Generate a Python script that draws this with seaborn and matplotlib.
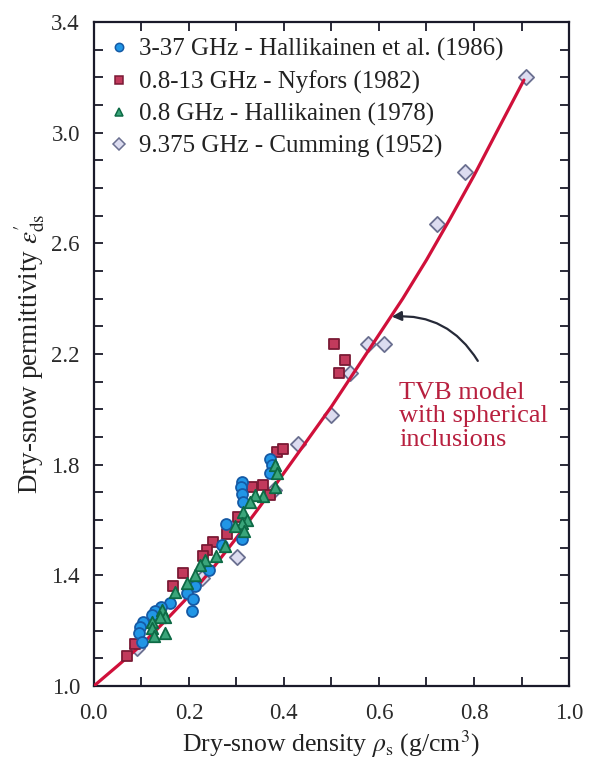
import numpy as np
import pandas as pd
import matplotlib
matplotlib.use("Agg")
import matplotlib.pyplot as plt
from matplotlib.ticker import MultipleLocator, FixedLocator
import seaborn as sns

# ---- measured data -------------------------------------------------------
# Hallikainen et al. (1986), 3-37 GHz
hal86_rho = [0.371, 0.375, 0.371, 0.312, 0.309, 0.312, 0.314, 0.278, 0.312,
             0.269, 0.242, 0.213, 0.196, 0.208, 0.206, 0.160, 0.141, 0.128,
             0.122, 0.103, 0.097, 0.095, 0.101]
hal86_eps = [1.82, 1.80, 1.77, 1.736, 1.718, 1.693, 1.664, 1.585, 1.53,
             1.51, 1.42, 1.36, 1.336, 1.314, 1.27, 1.30, 1.285, 1.27,
             1.256, 1.23, 1.213, 1.19, 1.16]

# Nyfors (1982), 0.8-13 GHz
nyf_rho = [0.505, 0.528, 0.516, 0.385, 0.398, 0.333, 0.356, 0.371, 0.303,
           0.280, 0.251, 0.238, 0.229, 0.187, 0.166, 0.086, 0.069]
nyf_eps = [2.235, 2.18, 2.13, 1.845, 1.856, 1.72, 1.725, 1.69, 1.61,
           1.55, 1.52, 1.49, 1.47, 1.41, 1.36, 1.15, 1.11]

# Hallikainen (1978), 0.8 GHz
hal78_rho = [0.381, 0.385, 0.381, 0.356, 0.339, 0.328, 0.314, 0.322, 0.312,
             0.316, 0.297, 0.276, 0.257, 0.234, 0.223, 0.213, 0.196, 0.171,
             0.143, 0.149, 0.139, 0.122, 0.122, 0.149, 0.126]
hal78_eps = [1.80, 1.77, 1.72, 1.686, 1.69, 1.664, 1.63, 1.60, 1.59,
             1.56, 1.578, 1.505, 1.47, 1.455, 1.437, 1.40, 1.372, 1.34,
             1.274, 1.25, 1.25, 1.23, 1.21, 1.19, 1.18]

# Cumming (1952), 9.375 GHz
cum_rho = [0.909, 0.781, 0.722, 0.611, 0.577, 0.539, 0.499, 0.429, 0.379,
           0.301, 0.227, 0.090]
cum_eps = [3.20, 2.856, 2.67, 2.235, 2.235, 2.13, 1.98, 1.873, 1.71,
           1.466, 1.39, 1.137]

# TVB model with spherical inclusions
model_rho = [0.0, 0.05, 0.10, 0.15, 0.20, 0.25, 0.30, 0.35, 0.40, 0.45,
             0.50, 0.55, 0.60, 0.65, 0.70, 0.75, 0.80, 0.85, 0.905]
model_eps = [1.0, 1.073, 1.148, 1.235, 1.325, 1.425, 1.535, 1.65, 1.77, 1.89,
             2.01, 2.14, 2.27, 2.40, 2.54, 2.69, 2.845, 3.01, 3.19]

x_ticks = [0.0, 0.2, 0.4, 0.6, 0.8, 1.0]
y_ticks = [1.0, 1.4, 1.8, 2.2, 2.6, 3.0, 3.4]

# ---- styling -------------------------------------------------------------
sns.set_theme(style="white")
plt.rcParams["font.family"] = ["Liberation Serif", "DejaVu Serif"]
plt.rcParams["mathtext.fontset"] = "stix"

fig = plt.figure(figsize=(5.94, 7.58), dpi=100)
ax = fig.add_axes([0.158, 0.095, 0.800, 0.876])

series = [
    ("3-37 GHz - Hallikainen et al. (1986)", hal86_rho, hal86_eps, "o",
     "#2196e6", "#155aa5", 62, 4),
    ("0.8-13 GHz - Nyfors (1982)", nyf_rho, nyf_eps, "s",
     "#c23a5c", "#7a1a35", 52, 3),
    ("0.8 GHz - Hallikainen (1978)", hal78_rho, hal78_eps, "^",
     "#3aa57a", "#0d6a45", 68, 5),
    ("9.375 GHz - Cumming (1952)", cum_rho, cum_eps, "D",
     "#dcdcf0", "#6a6f90", 60, 2),
]

model_df = pd.DataFrame({"rho": model_rho, "eps": model_eps})
sns.lineplot(data=model_df, x="rho", y="eps", ax=ax, color="#d0103a",
             lw=2.3, zorder=3, legend=False)

handles = []
for label, xs, ys, mk, fc, ec, size, z in series:
    df = pd.DataFrame({"rho": xs, "eps": ys})
    sns.scatterplot(data=df, x="rho", y="eps", ax=ax, marker=mk, s=size,
                    color=fc, edgecolor=ec, linewidth=1.3, zorder=z,
                    legend=False)
    handles.append(plt.Line2D([], [], ls="none", marker=mk, markersize=6,
                              markerfacecolor=fc, markeredgecolor=ec,
                              markeredgewidth=1.1, label=label))

leg = ax.legend(handles=handles, loc="upper left", frameon=False,
                fontsize=18, handlelength=0.7, handletextpad=0.45,
                labelspacing=0.36, borderaxespad=0.25,
                bbox_to_anchor=(0.0, 1.0))
for t in leg.get_texts():
    t.set_color("#222222")

# annotation for the model curve
ax.annotate("", xy=(0.627, 2.335), xytext=(0.808, 2.175),
            arrowprops=dict(arrowstyle="-|>", color="#262a38", lw=1.6,
                            connectionstyle="arc3,rad=0.3",
                            mutation_scale=14, shrinkA=0, shrinkB=0))
ax.text(0.642, 1.975, "TVB model\nwith spherical\ninclusions",
        color="#b8203f", fontsize=19, ha="left", va="center",
        linespacing=1.08)

# axes, ticks and labels
ax.set_xlim(0.0, 1.0)
ax.set_ylim(1.0, 3.4)
ax.xaxis.set_major_locator(FixedLocator(x_ticks))
ax.yaxis.set_major_locator(FixedLocator(y_ticks))
ax.xaxis.set_minor_locator(MultipleLocator(0.1))
ax.yaxis.set_minor_locator(MultipleLocator(0.1))
ax.set_xticklabels([f"{v:.1f}" for v in x_ticks])
ax.set_yticklabels([f"{v:.1f}" for v in y_ticks])
ax.tick_params(which="both", direction="in", top=True, right=True,
               bottom=True, left=True, length=6.5, width=1.3,
               color="#1a1a2a")
ax.tick_params(which="major", labelsize=16.5, labelcolor="#2a2a2a")
ax.tick_params(axis="x", which="major", pad=12)
ax.tick_params(axis="y", which="major", pad=10)
for sp in ax.spines.values():
    sp.set_linewidth(1.6)
    sp.set_color("#1a1a2a")

ax.set_xlabel(r"Dry-snow density $\rho_{\mathrm{s}}$ (g/cm$^3$)",
              fontsize=18.5, color="#222222", labelpad=3)
ax.set_ylabel(r"Dry-snow permittivity $\varepsilon_{\mathrm{ds}}^{\prime}$",
              fontsize=19.5, color="#222222", labelpad=3)

fig.savefig("out.png", dpi=100, facecolor="white")
